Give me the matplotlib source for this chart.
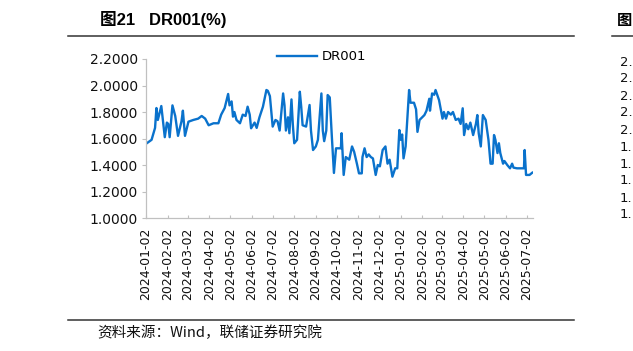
import matplotlib
matplotlib.use('Agg')
import matplotlib.pyplot as plt
import matplotlib.dates as mdates
import pandas as pd

# DR001 (%)
dates = [
    '2024-01-02', '2024-01-10', '2024-01-15', '2024-01-17', '2024-01-19', '2024-01-24', '2024-01-29',
    '2024-02-01', '2024-02-03', '2024-02-05', '2024-02-09', '2024-02-13', '2024-02-17', '2024-02-22',
    '2024-02-24', '2024-02-27', '2024-03-03', '2024-03-10', '2024-03-17', '2024-03-22', '2024-03-27',
    '2024-04-01', '2024-04-08', '2024-04-15', '2024-04-19', '2024-04-24', '2024-04-29', '2024-05-01',
    '2024-05-04', '2024-05-06', '2024-05-08', '2024-05-11', '2024-05-16', '2024-05-20', '2024-05-24',
    '2024-05-27', '2024-05-30', '2024-06-01', '2024-06-06', '2024-06-09', '2024-06-13', '2024-06-18',
    '2024-06-23', '2024-06-25', '2024-06-28', '2024-07-02', '2024-07-06', '2024-07-09', '2024-07-12',
    '2024-07-17', '2024-07-19', '2024-07-21', '2024-07-24', '2024-07-26', '2024-07-29', '2024-07-31',
    '2024-08-02', '2024-08-06', '2024-08-10', '2024-08-12', '2024-08-14', '2024-08-19', '2024-08-24',
    '2024-08-26', '2024-08-29', '2024-09-02', '2024-09-05', '2024-09-10', '2024-09-12', '2024-09-14',
    '2024-09-17', '2024-09-19', '2024-09-22', '2024-09-25', '2024-09-28', '2024-10-01', '2024-10-08',
    '2024-10-09', '2024-10-12', '2024-10-15', '2024-10-20', '2024-10-24', '2024-10-27', '2024-10-31',
    '2024-11-03', '2024-11-07', '2024-11-08', '2024-11-11', '2024-11-14', '2024-11-17', '2024-11-20',
    '2024-11-23', '2024-11-27', '2024-11-30', '2024-12-03', '2024-12-07', '2024-12-11', '2024-12-14',
    '2024-12-17', '2024-12-21', '2024-12-25', '2024-12-28', '2024-12-31', '2025-01-02', '2025-01-04',
    '2025-01-06', '2025-01-09', '2025-01-14', '2025-01-16', '2025-01-21', '2025-01-24', '2025-01-26',
    '2025-01-29', '2025-02-05', '2025-02-08', '2025-02-12', '2025-02-13', '2025-02-16', '2025-02-19',
    '2025-02-21', '2025-02-26', '2025-03-03', '2025-03-05', '2025-03-08', '2025-03-11', '2025-03-15',
    '2025-03-18', '2025-03-22', '2025-03-26', '2025-03-29', '2025-04-01', '2025-04-03', '2025-04-06',
    '2025-04-09', '2025-04-12', '2025-04-16', '2025-04-20', '2025-04-22', '2025-04-24', '2025-04-27',
    '2025-04-30', '2025-05-04', '2025-05-08', '2025-05-11', '2025-05-14', '2025-05-16', '2025-05-18',
    '2025-05-21', '2025-05-23', '2025-05-25', '2025-05-29', '2025-05-31', '2025-06-04', '2025-06-08',
    '2025-06-11', '2025-06-13', '2025-06-18', '2025-06-25', '2025-06-28', '2025-06-29', '2025-07-01',
    '2025-07-06', '2025-07-10',
]
dr001 = [
    1.56, 1.59, 1.68, 1.83, 1.74, 1.845, 1.61,
    1.72, 1.71, 1.61, 1.85, 1.77, 1.62, 1.73,
    1.81, 1.62, 1.727, 1.74, 1.75, 1.77, 1.75,
    1.70, 1.715, 1.715, 1.78, 1.83, 1.936, 1.85,
    1.88, 1.765, 1.80, 1.74, 1.715, 1.78, 1.77,
    1.84, 1.78, 1.677, 1.72, 1.68, 1.76, 1.84,
    1.966, 1.96, 1.92, 1.69, 1.74, 1.73, 1.66,
    1.94, 1.85, 1.66, 1.76, 1.64, 1.895, 1.70,
    1.564, 1.59, 1.953, 1.84, 1.70, 1.69, 1.853,
    1.66, 1.513, 1.54, 1.59, 1.94, 1.66, 1.58,
    1.66, 1.928, 1.91, 1.614, 1.34, 1.526, 1.526,
    1.64, 1.325, 1.46, 1.44, 1.54, 1.50, 1.41,
    1.337, 1.337, 1.46, 1.526, 1.46, 1.48, 1.46,
    1.45, 1.325, 1.40, 1.39, 1.513, 1.54, 1.41,
    1.44, 1.312, 1.375, 1.375, 1.664, 1.59, 1.63,
    1.45, 1.54, 1.966, 1.87, 1.87, 1.82, 1.65,
    1.74, 1.777, 1.81, 1.90, 1.81, 1.94, 1.93,
    1.966, 1.89, 1.75, 1.80, 1.75, 1.80, 1.78,
    1.80, 1.74, 1.75, 1.71, 1.828, 1.626, 1.71,
    1.67, 1.72, 1.626, 1.71, 1.777, 1.64, 1.54,
    1.777, 1.74, 1.59, 1.41, 1.41, 1.626, 1.59,
    1.49, 1.564, 1.49, 1.41, 1.43, 1.40, 1.375,
    1.41, 1.38, 1.375, 1.375, 1.375, 1.513, 1.325,
    1.325, 1.342,
]
series_name = 'DR001'
title = '图21   DR001(%)'
source = '资料来源：Wind，联储证券研究院'
# what is visible of the neighbouring chart at the right edge
side_title = '图'
side_labels = ['2.', '2.', '2.', '2.', '2.', '1.', '1.', '1.', '1.', '1.']

W, H = 633, 351
fig = plt.figure(figsize=(W / 100, H / 100), dpi=100)
ax = fig.add_axes([146 / W, 1 - 218 / H, (533 - 146) / W, (218 - 59) / H])

x = pd.to_datetime(dates)
line, = ax.plot(x, dr001, color='#0a72cc', lw=1.7, label=series_name)

ax.set_ylim(1.0, 2.2)
ax.set_yticks([1.0, 1.2, 1.4, 1.6, 1.8, 2.0, 2.2])
ax.yaxis.set_major_formatter(matplotlib.ticker.FormatStrFormatter('%.4f'))
ax.set_xlim(pd.Timestamp('2024-01-02'), pd.Timestamp('2025-07-11'))
ax.xaxis.set_major_locator(mdates.MonthLocator(bymonthday=2))
ax.xaxis.set_major_formatter(mdates.DateFormatter('%Y-%m-%d'))

for s in ['top', 'right']:
    ax.spines[s].set_visible(False)
for s in ['left', 'bottom']:
    ax.spines[s].set_color('#c0c0c0')
    ax.spines[s].set_linewidth(0.9)

ax.tick_params(axis='y', direction='out', length=3, width=0.8, color='#c0c0c0',
               pad=3, labelsize=10, labelcolor='#111111')
ax.tick_params(axis='x', direction='in', length=2.5, width=0.8, color='#c0c0c0',
               pad=7, labelsize=9, labelcolor='#111111', labelrotation=90)
for lab in ax.get_yticklabels() + ax.get_xticklabels():
    lab.set_fontfamily('DejaVu Sans')

fig.legend(handles=[line], loc='center left', bbox_to_anchor=(277 / W, 1 - 57 / H),
           frameon=False, handlelength=3.0, handletextpad=0.4, borderpad=0,
           borderaxespad=0, prop={'family': 'DejaVu Sans', 'size': 9.5})

# header / footer
fig.text(100 / W, 1 - 20 / H, title, fontsize=12, fontweight='bold', va='center', ha='left',
         family=['Liberation Sans', 'Noto Sans CJK SC'])
fig.add_artist(plt.Line2D([68 / W, 574 / W], [1 - 36 / H, 1 - 36 / H], color='#333333', lw=1.1))
fig.add_artist(plt.Line2D([68 / W, 574 / W], [1 - 320 / H, 1 - 320 / H], color='#333333', lw=1.1))
fig.text(97 / W, 1 - 333 / H, source, fontsize=10.5, va='center', ha='left',
         family=['Noto Sans CJK SC', 'DejaVu Sans'], color='#111111')

# neighbouring chart fragment
fig.add_artist(plt.Line2D([612 / W, 1.0], [1 - 36 / H, 1 - 36 / H], color='#333333', lw=1.1))
fig.text(632 / W, 1 - 20 / H, side_title, fontsize=11, fontweight='bold', va='center', ha='right',
         family=['Noto Sans CJK SC'])
for i, lab in enumerate(side_labels):
    fig.text(620 / W, 1 - (62 + i * 17) / H, lab, fontsize=9.5, va='center', ha='left',
             family='DejaVu Sans', color='#111111')

fig.savefig('out.png', dpi=100)
